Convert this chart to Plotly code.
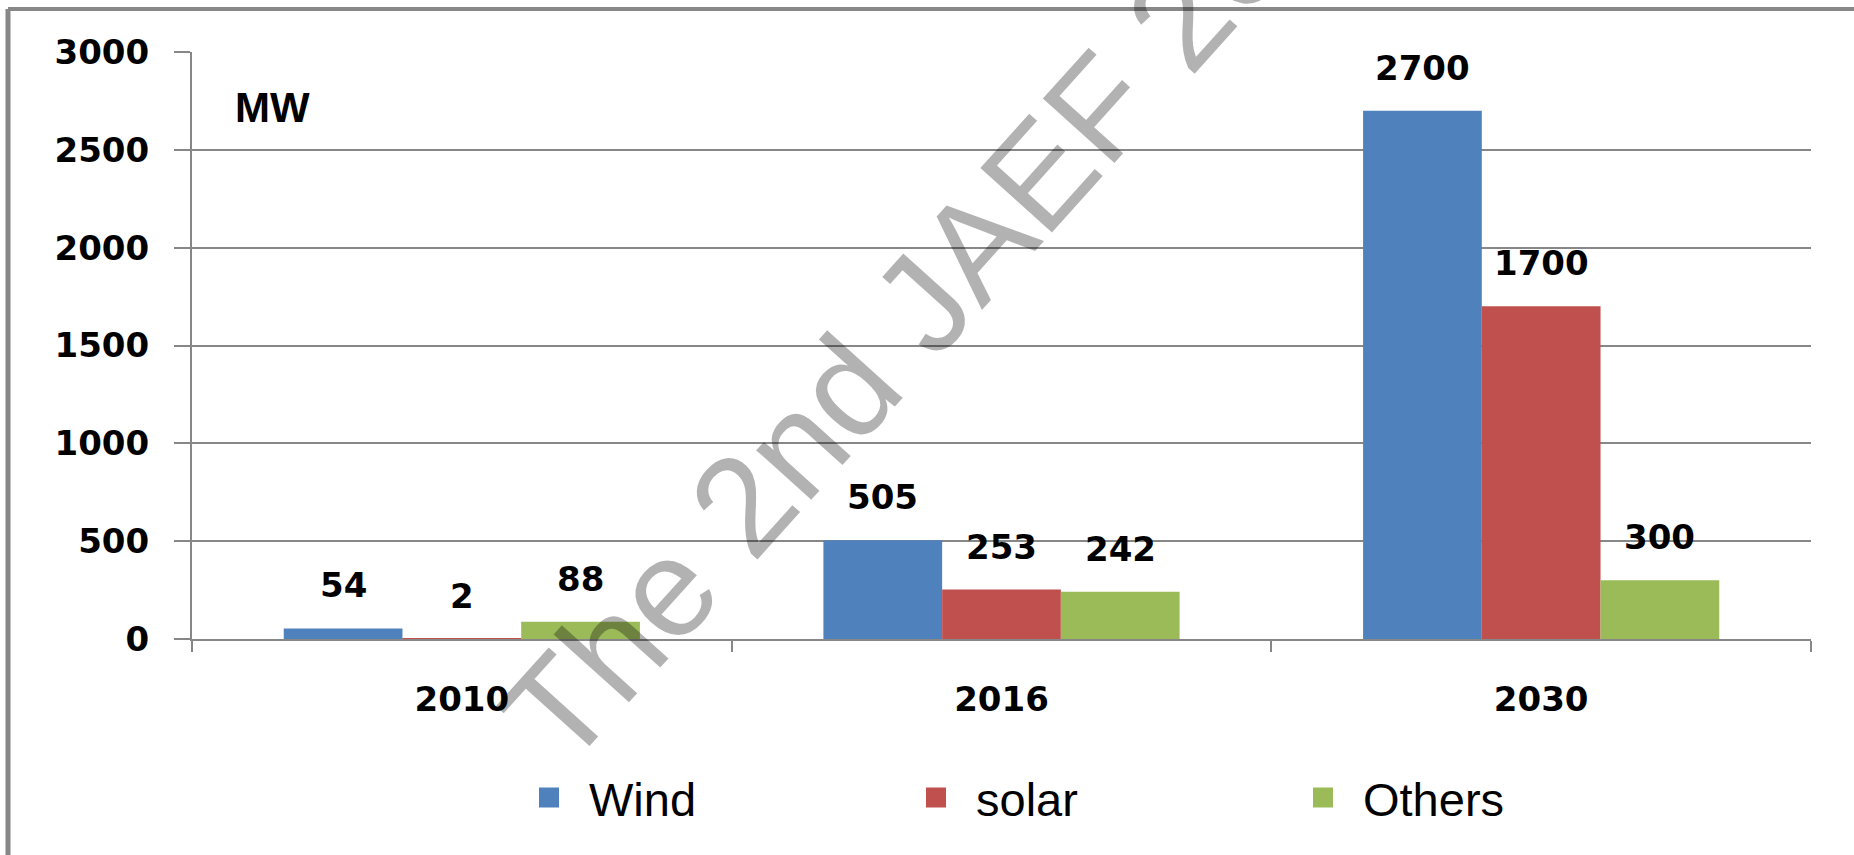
import plotly.graph_objects as go

# ---- data ----
categories = ["2010", "2016", "2030"]
series_names = ["Wind", "solar", "Others"]
wind = [54, 505, 2700]
solar = [2, 253, 1700]
others = [88, 242, 300]
y_tick_values = [0, 500, 1000, 1500, 2000, 2500, 3000]
unit_label = "MW"
watermark_text = "The 2nd JAEF 2016"

# ---- style ----
colors = ["#4F81BD", "#C0504D", "#9BBB59"]
values = [wind, solar, others]
GRID = "#878787"
BARGAP = 0.34
tick_font = dict(family="DejaVu Sans", size=34, color="black", weight="bold")

W, H = 1854, 855
ML, MR, MT, MB = 192, 43, 52, 216
PW, PH = W - ML - MR, H - MT - MB


def px_to_paper_x(px):
    return (px - ML) / PW


def px_to_paper_y(py):
    return (H - MB - py) / PH


fig = go.Figure()
for name, vals, col in zip(series_names, values, colors):
    fig.add_trace(go.Bar(x=categories, y=vals, name=name,
                         marker=dict(color=col, line=dict(width=0)),
                         showlegend=False, hoverinfo="x+y+name"))

# legend entries
for name, col in zip(series_names, colors):
    fig.add_trace(go.Scatter(x=[None], y=[None], mode="markers", name=name,
                             marker=dict(symbol="square", size=16, color=col,
                                         line=dict(color=col, width=4))))

# data labels
bw = (1 - BARGAP) / len(values)
for j, vals in enumerate(values):
    off = (j - (len(values) - 1) / 2) * bw
    for i, v in enumerate(vals):
        fig.add_annotation(x=i + off, y=v, xref="x", yref="y", text=str(v),
                           showarrow=False, yanchor="bottom", yshift=21,
                           font=tick_font)

# unit label
fig.add_annotation(x=px_to_paper_x(233), y=px_to_paper_y(108), xref="paper", yref="paper",
                   text="<b>" + unit_label + "</b>", showarrow=False,
                   xanchor="left", yanchor="middle",
                   font=dict(family="Liberation Sans", size=42, color="black"))

# watermark
fig.add_annotation(x=px_to_paper_x(945), y=px_to_paper_y(278), xref="paper", yref="paper",
                   text=watermark_text, showarrow=False, textangle=-48,
                   xanchor="center", yanchor="middle",
                   font=dict(family="Liberation Sans", size=140, color="rgba(0,0,0,0.3)"))

# outer frame (top & left edges)
fx = px_to_paper_x(8)
fy = px_to_paper_y(9)
fig.add_shape(type="line", xref="paper", yref="paper", x0=fx, x1=1.2, y0=fy, y1=fy,
              line=dict(color=GRID, width=4))
fig.add_shape(type="line", xref="paper", yref="paper", x0=fx, x1=fx, y0=-0.6, y1=fy,
              line=dict(color=GRID, width=5))

fig.update_layout(
    width=W, height=H,
    margin=dict(l=ML, r=MR, t=MT, b=MB, pad=0),
    paper_bgcolor="white", plot_bgcolor="white",
    barmode="group", bargap=BARGAP, bargroupgap=0,
    showlegend=True,
    legend=dict(orientation="h", x=px_to_paper_x(509), y=px_to_paper_y(798),
                xanchor="left", yanchor="middle", itemwidth=70,
                entrywidth=302, entrywidthmode="pixels",
                font=dict(family="Liberation Sans", size=47, color="black"),
                bgcolor="rgba(0,0,0,0)"),
    xaxis=dict(type="category", tickson="boundaries", ticks="outside", ticklen=11,
               tickwidth=2, tickcolor=GRID, showline=True, linecolor=GRID, linewidth=2,
               showgrid=False, tickfont=tick_font, ticklabelstandoff=29,
               range=[-0.5, 2.5], fixedrange=True),
    yaxis=dict(range=[0, 3000], tickvals=y_tick_values, ticks="outside", ticklen=16,
               tickwidth=2, tickcolor=GRID, showline=True, linecolor=GRID, linewidth=2,
               showgrid=True, gridcolor=GRID, gridwidth=2, zeroline=False,
               tickfont=tick_font, ticklabelstandoff=18, fixedrange=True),
)

fig.write_html("out.html", config={"displayModeBar": False},
               post_script="document.body.style.margin='0';document.body.style.padding='0';")
